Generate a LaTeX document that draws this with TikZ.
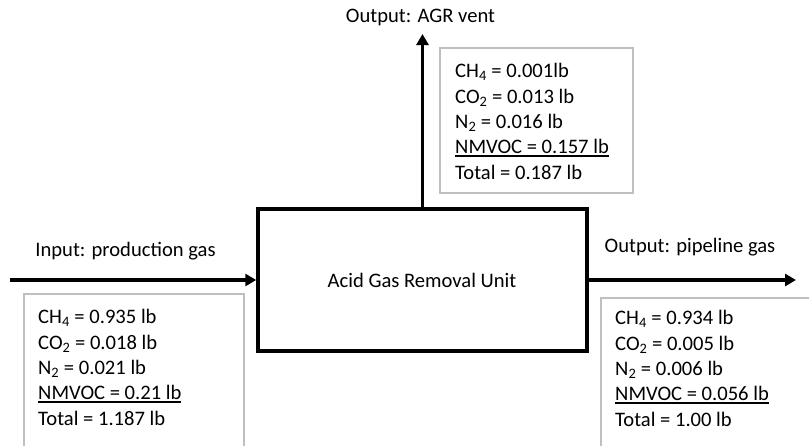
\documentclass[tikz,border=0pt]{standalone}
\usepackage{fontspec}
\setmainfont{Carlito}
\usetikzlibrary{arrows.meta}
\newcommand{\ulline}[1]{\setbox0\hbox{#1}\rlap{\rule[-3.2pt]{\wd0}{1.6pt}}\box0}
\tikzset{
  unitbox/.style={draw=black, line width=3.5pt, minimum width=329pt, minimum height=142pt, inner sep=0pt},
  databox/.style={draw=black!25, line width=1.5pt, inner sep=0pt},
  flow/.style={line width=3.5pt, -{Triangle[length=11pt,width=12pt]}},
  lbl/.style={font=\fontsize{20.6}{24}\selectfont, inner sep=0pt, anchor=base},
  datatext/.style={font=\fontsize{20.6}{25.3}\selectfont, align=left, inner sep=0pt, anchor=base west}
}
\begin{document}
\begin{tikzpicture}[x=1pt,y=-1pt]
\useasboundingbox (0,0) rectangle (809,445);
\clip (0,0) rectangle (809,445);
% data boxes
\node[databox, minimum width=220pt, minimum height=166pt] (inbox) at (134,377) {};
\node[databox, minimum width=229pt, minimum height=162pt] (outbox) at (715.5,379) {};
\node[databox, minimum width=193pt, minimum height=145pt] (ventbox) at (536.5,120.5) {};
% unit
\node[unitbox] (unit) at (422.5,280) {};
\node[lbl] (unitlbl) at (422,287) {Acid Gas Removal Unit};
% flows
\coordinate (instart) at (10,280);
\coordinate (outend) at (796,280);
\coordinate (ventend) at (422.5,34);
\draw[flow] (instart) -- (unit.west);
\draw[flow] (unit.east) -- (outend);
\draw[flow] (unit.north) -- (ventend);
% labels
\node[lbl] (inlbl) at (125.5,256) {Input: production gas};
\node[lbl] (outlbl) at (690,252) {Output: pipeline gas};
\node[lbl] (ventlbl) at (420.5,22) {Output: AGR vent};
% data texts (anchored at the baseline of the last line)
\node[datatext] (intext) at (38,425) {CH\textsubscript{4} = 0.935 lb\\CO\textsubscript{2} = 0.018 lb\\N\textsubscript{2} = 0.021 lb\\\ulline{NMVOC = 0.21 lb}\\Total = 1.187 lb};
\node[datatext] (outtext) at (615,426) {CH\textsubscript{4} = 0.934 lb\\CO\textsubscript{2} = 0.005 lb\\N\textsubscript{2} = 0.006 lb\\\ulline{NMVOC = 0.056 lb}\\Total = 1.00 lb};
\node[datatext] (venttext) at (455,179) {CH\textsubscript{4} = 0.001lb\\CO\textsubscript{2} = 0.013 lb\\N\textsubscript{2} = 0.016 lb\\\ulline{NMVOC = 0.157 lb}\\Total = 0.187 lb};
\end{tikzpicture}
\end{document}
